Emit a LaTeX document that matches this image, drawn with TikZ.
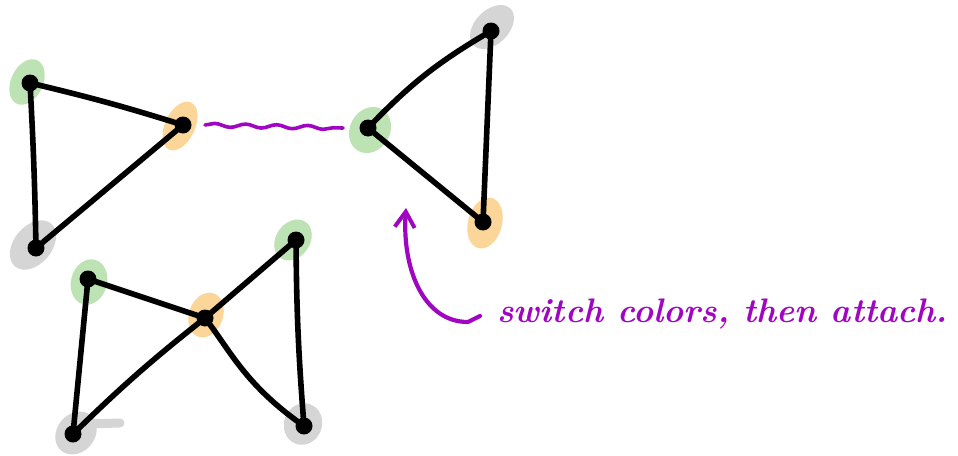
\documentclass[tikz,border=0pt]{standalone}
\usepackage{xcolor}
\usepackage{tikz}
\usetikzlibrary{arrows.meta,decorations.pathmorphing}
\definecolor{penPurple}{HTML}{A006C2}
\definecolor{blobGreen}{HTML}{BDE3B5}
\definecolor{blobOrange}{HTML}{FCD699}
\definecolor{blobGray}{HTML}{D5D5D5}

\begin{document}
\begin{tikzpicture}[
  x=1pt, y=-1pt,
  vertex/.style={
    circle,
    fill=black,
    inner sep=0pt,
    minimum size=17pt
  },
  edge/.style={
    draw=black,
    line width=5.6pt,
    line cap=round
  },
  green blob/.style={fill=blobGreen},
  orange blob/.style={fill=blobOrange},
  gray blob/.style={fill=blobGray},
  wave/.style={
    draw=penPurple,
    line width=3.6pt,
    line cap=round,
    decorate,
    decoration={snake, amplitude=1.8pt, segment length=31pt}
  },
  pointer/.style={
    draw=penPurple,
    line width=4.2pt,
    line cap=round,
    -{Straight Barb[length=5.5mm,width=7mm,line width=4pt]}
  },
  note/.style={
    text=penPurple,
    font=\fontsize{34}{38}\selectfont\bfseries\itshape,
    anchor=base west,
    inner sep=0pt
  }
]
\useasboundingbox (0,0) rectangle (958,455);

% Colour highlights under the vertices
\fill[green blob, rotate around={-25:(27,82)}] (27,82) ellipse [x radius=16, y radius=24];
\fill[orange blob, rotate around={-25:(180,126)}] (180,126) ellipse [x radius=15, y radius=26];
\fill[gray blob, rotate around={-40:(33,245)}] (33,245) ellipse [x radius=19, y radius=28];

\fill[green blob, rotate around={-30:(370,130)}] (370,130) ellipse [x radius=20, y radius=24];
\fill[gray blob, rotate around={-45:(492,27)}] (492,27) ellipse [x radius=17, y radius=26];
\fill[orange blob, rotate around={-15:(485,223)}] (485,223) ellipse [x radius=17, y radius=26];

\fill[green blob, rotate around={-15:(89,282)}] (89,282) ellipse [x radius=18, y radius=23];
\fill[orange blob, rotate around={-20:(206,315)}] (206,315) ellipse [x radius=17, y radius=23];
\fill[green blob, rotate around={-35:(293,240)}] (293,240) ellipse [x radius=17, y radius=22];
\fill[gray blob, rotate around={-40:(76,433)}] (76,433) ellipse [x radius=19, y radius=23];
\draw[blobGray, line width=9pt, line cap=round] (85,424) -- (120,423);
\fill[gray blob, rotate around={-20:(303,424)}] (303,424) ellipse [x radius=19, y radius=21];

% Left triangle
\node[vertex] (triAGreen) at (30,83) {};
\node[vertex] (triAOrange) at (183,125) {};
\node[vertex] (triAGray) at (36,248) {};

% Right triangle
\node[vertex] (triBGreen) at (368,128) {};
\node[vertex] (triBGray) at (491,31) {};
\node[vertex] (triBOrange) at (483,222) {};

% Bow tie below
\node[vertex] (bowGreenLeft) at (88,279) {};
\node[vertex] (bowCenter) at (205,318) {};
\node[vertex] (bowGreenRight) at (296,240) {};
\node[vertex] (bowGrayLeft) at (73,434) {};
\node[vertex] (bowGrayRight) at (304,426) {};

% Edges
\draw[edge] (triAGreen.center) to[bend left=2] (triAOrange.center);
\draw[edge] (triAGreen.center) to[bend left=1] (triAGray.center);
\draw[edge] (triAOrange.center) -- (triAGray.center);

\draw[edge] (triBGreen.center) to[bend left=8] (triBGray.center);
\draw[edge] (triBGray.center) -- (triBOrange.center);
\draw[edge] (triBGreen.center) -- (triBOrange.center);

\draw[edge] (bowGreenLeft.center) -- (bowCenter.center);
\draw[edge] (bowGreenLeft.center) -- (bowGrayLeft.center);
\draw[edge] (bowGrayLeft.center) to[bend left=3] (bowCenter.center);
\draw[edge] (bowCenter.center) -- (bowGreenRight.center);
\draw[edge] (bowGreenRight.center) to[bend right=2] (bowGrayRight.center);
\draw[edge] (bowCenter.center) .. controls (230,350) and (245,385) .. (bowGrayRight.center);

% Attach squiggle between the two triangles
\draw[wave] ([xshift=22pt]triAOrange.center) -- ([xshift=-25pt]triBGreen.center);

% Note and its arrow
\node[note] (note) at (497,322) {switch colors, then attach.};
\coordinate (arrowTip) at (406,208);
\draw[pointer] ([shift={(-17,-6)}]note.base west) -- ++(-12,6)
  .. controls +(-45,0) and +(-4,60) .. (arrowTip);

\end{tikzpicture}
\end{document}
